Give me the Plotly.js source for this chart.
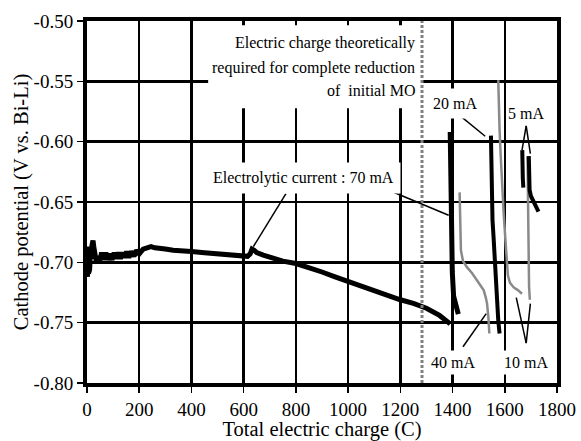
<!DOCTYPE html>
<html>
<head>
<meta charset="utf-8">
<script src="https://cdn.plot.ly/plotly-3.0.1.min.js"></script>
<style>
html,body{margin:0;padding:0;background:#fff;}
#chart{width:581px;height:441px;}
</style>
</head>
<body>
<div id="chart"></div>
<script>
// ---- Data (total electric charge in C, cathode potential in V vs. Bi-Li) ----
// 70 mA (main run + recovery segment after step)
const q70 = [0,2,4,6,8,10,13,16,19,23,26,30,35,40,48,56,64,72,80,88,96,104,112,120,128,136,144,152,160,170,180,190,200,215,230,245,260,280,300,330,360,400,450,500,550,600,615,625,632,640,650,675,700,750,800,850,900,950,1000,1050,1100,1150,1200,1250,1300,1350,1391,
  null,
  1391,1392,1394,1396,1399,1404,1412,1422];
const e70 = [-0.700,-0.712,-0.687,-0.709,-0.690,-0.706,-0.692,-0.697,-0.686,-0.682,-0.687,-0.695,-0.699,-0.695,-0.699,-0.692,-0.698,-0.692,-0.698,-0.693,-0.698,-0.692,-0.697,-0.692,-0.697,-0.692,-0.696,-0.691,-0.696,-0.691,-0.695,-0.690,-0.693,-0.689,-0.688,-0.687,-0.688,-0.688,-0.689,-0.690,-0.690,-0.691,-0.692,-0.693,-0.694,-0.695,-0.695,-0.693,-0.689,-0.690,-0.692,-0.694,-0.696,-0.699,-0.701,-0.704,-0.708,-0.712,-0.716,-0.720,-0.723,-0.727,-0.731,-0.734,-0.738,-0.744,-0.751,
  null,
  -0.592,-0.620,-0.650,-0.680,-0.708,-0.728,-0.737,-0.743];
// 40 mA
const q40 = [1427,1429,1432,1440,1455,1475,1494,1510,1519,1527,1532,1537,1541];
const e40 = [-0.642,-0.665,-0.690,-0.699,-0.704,-0.709,-0.715,-0.720,-0.723,-0.729,-0.734,-0.745,-0.759];
// 20 mA
const q20 = [1547,1548,1549,1550,1553,1557,1563,1570,1575,1580];
const e20 = [-0.595,-0.615,-0.635,-0.650,-0.665,-0.679,-0.705,-0.734,-0.748,-0.759];
// 10 mA (two segments)
const q10 = [1575,1577,1580,1584,1589,1596,1602,1607,1612,1620,1635,1650,1666,
  null,
  1687,1688,1689,1691,1693,1696];
const e10 = [-0.549,-0.570,-0.590,-0.610,-0.635,-0.660,-0.680,-0.700,-0.711,-0.717,-0.721,-0.723,-0.726,
  null,
  -0.612,-0.640,-0.670,-0.700,-0.720,-0.731];
// 5 mA (two segments)
const q5 = [1667,1667,1669,1671,
  null,
  1692,1693,1695,1700,1710,1720,1729];
const e5 = [-0.607,-0.620,-0.630,-0.638,
  null,
  -0.612,-0.625,-0.640,-0.645,-0.650,-0.654,-0.658];

// theoretical charge for complete reduction of initial MO
const theoreticalCharge = 1283;

// ticks
const xTickVals = [0,200,400,600,800,1000,1200,1400,1600,1800];
const yTickVals = [-0.80,-0.75,-0.70,-0.65,-0.60,-0.55,-0.50];
const yTickText = ['-0.80','-0.75','-0.70','-0.65','-0.60','-0.55','-0.50'];

// ---- Chart ----
const FONT = "'Liberation Serif', 'Times New Roman', serif";
const BLACK = '#000000';
const GRAY = '#8a8a8a';

const traces = [
  {x:q70, y:e70, mode:'lines', line:{color:BLACK, width:5}, connectgaps:false, name:'70 mA'},
  {x:q40, y:e40, mode:'lines', line:{color:GRAY, width:2.5}, name:'40 mA'},
  {x:q20, y:e20, mode:'lines', line:{color:BLACK, width:4}, name:'20 mA'},
  {x:q10, y:e10, mode:'lines', line:{color:GRAY, width:2.5}, connectgaps:false, name:'10 mA'},
  {x:q5,  y:e5,  mode:'lines', line:{color:BLACK, width:4}, connectgaps:false, name:'5 mA'}
];

function ptr(x0,y0,x1,y1){
  return {type:'line', xref:'x', yref:'y', x0:x0, y0:y0, x1:x1, y1:y1,
          line:{color:BLACK, width:1.5}, layer:'above'};
}

const shapes = [
  // white backing of the big note
  {type:'rect', xref:'x', yref:'y', x0:464, x1:1280, y0:-0.5036, y1:-0.5723,
   fillcolor:'#ffffff', line:{width:0}, layer:'above'},
  // theoretical charge line
  {type:'line', xref:'x', yref:'paper', x0:theoreticalCharge, x1:theoreticalCharge, y0:0, y1:1,
   line:{color:'#808080', width:3, dash:'3px,2px'}, layer:'above'},
  // pointers
  ptr(762,-0.643, 637,-0.687),
  ptr(1142,-0.639, 1385,-0.661),
  ptr(1426,-0.578, 1525,-0.5955),
  ptr(1682,-0.587, 1666,-0.607),
  ptr(1682,-0.587, 1698,-0.610),
  ptr(1440,-0.770, 1529,-0.7425),
  ptr(1682,-0.767, 1644,-0.7292),
  ptr(1682,-0.767, 1698,-0.7342)
];

const annFont = {family:FONT, size:16, color:BLACK};
const annotations = [
  {x:1263, y:-0.5185, xref:'x', yref:'y', xanchor:'right', yanchor:'middle', showarrow:false,
   text:'Electric charge theoretically', font:annFont},
  {x:1263, y:-0.5389, xref:'x', yref:'y', xanchor:'right', yanchor:'middle', showarrow:false,
   text:'required for complete reduction', font:annFont},
  {x:1263, y:-0.5580, xref:'x', yref:'y', xanchor:'right', yanchor:'middle', showarrow:false,
   text:'of\u00a0 initial MO', font:annFont},
  {x:828.5, y:-0.6304, xref:'x', yref:'y', showarrow:false, text:'Electrolytic current : 70 mA',
   font:annFont, bgcolor:'#ffffff', borderpad:6},
  {x:1410, y:-0.5685, xref:'x', yref:'y', showarrow:false, text:'20 mA',
   font:annFont, bgcolor:'#ffffff', borderpad:6},
  {x:1681, y:-0.5767, xref:'x', yref:'y', showarrow:false, text:'5 mA',
   font:annFont, bgcolor:'#ffffff', borderpad:1},
  {x:1400, y:-0.7826, xref:'x', yref:'y', showarrow:false, text:'40 mA',
   font:annFont, bgcolor:'#ffffff', borderpad:3},
  {x:1680, y:-0.7826, xref:'x', yref:'y', showarrow:false, text:'10 mA',
   font:annFont, bgcolor:'#ffffff', borderpad:3}
];

const layout = {
  width:581, height:441,
  margin:{l:87, r:24, t:21, b:58},
  paper_bgcolor:'#ffffff', plot_bgcolor:'#ffffff',
  showlegend:false,
  font:{family:FONT, color:BLACK},
  xaxis:{
    range:[0,1800], tickvals:xTickVals, ticks:'outside', ticklen:6, tickwidth:1.5, tickcolor:BLACK,
    showgrid:true, gridcolor:BLACK, gridwidth:2.5, zeroline:false,
    showline:true, linecolor:BLACK, linewidth:4, mirror:true,
    tickfont:{family:FONT, size:19, color:BLACK},
    title:{text:'Total electric charge (C)', font:{family:FONT, size:20.5, color:BLACK}, standoff:5}
  },
  yaxis:{
    range:[-0.80,-0.50], tickvals:yTickVals, ticktext:yTickText, ticks:'outside', ticklen:6, tickwidth:1.5, tickcolor:BLACK,
    showgrid:true, gridcolor:BLACK, gridwidth:2.5, zeroline:false,
    showline:true, linecolor:BLACK, linewidth:4, mirror:true,
    tickfont:{family:FONT, size:19, color:BLACK},
    title:{text:'Cathode potential (V vs. Bi-Li)', font:{family:FONT, size:20.5, color:BLACK}, standoff:0}
  },
  shapes:shapes,
  annotations:annotations
};

Plotly.newPlot('chart', traces, layout, {displayModeBar:false, staticPlot:true});
</script>
</body>
</html>
